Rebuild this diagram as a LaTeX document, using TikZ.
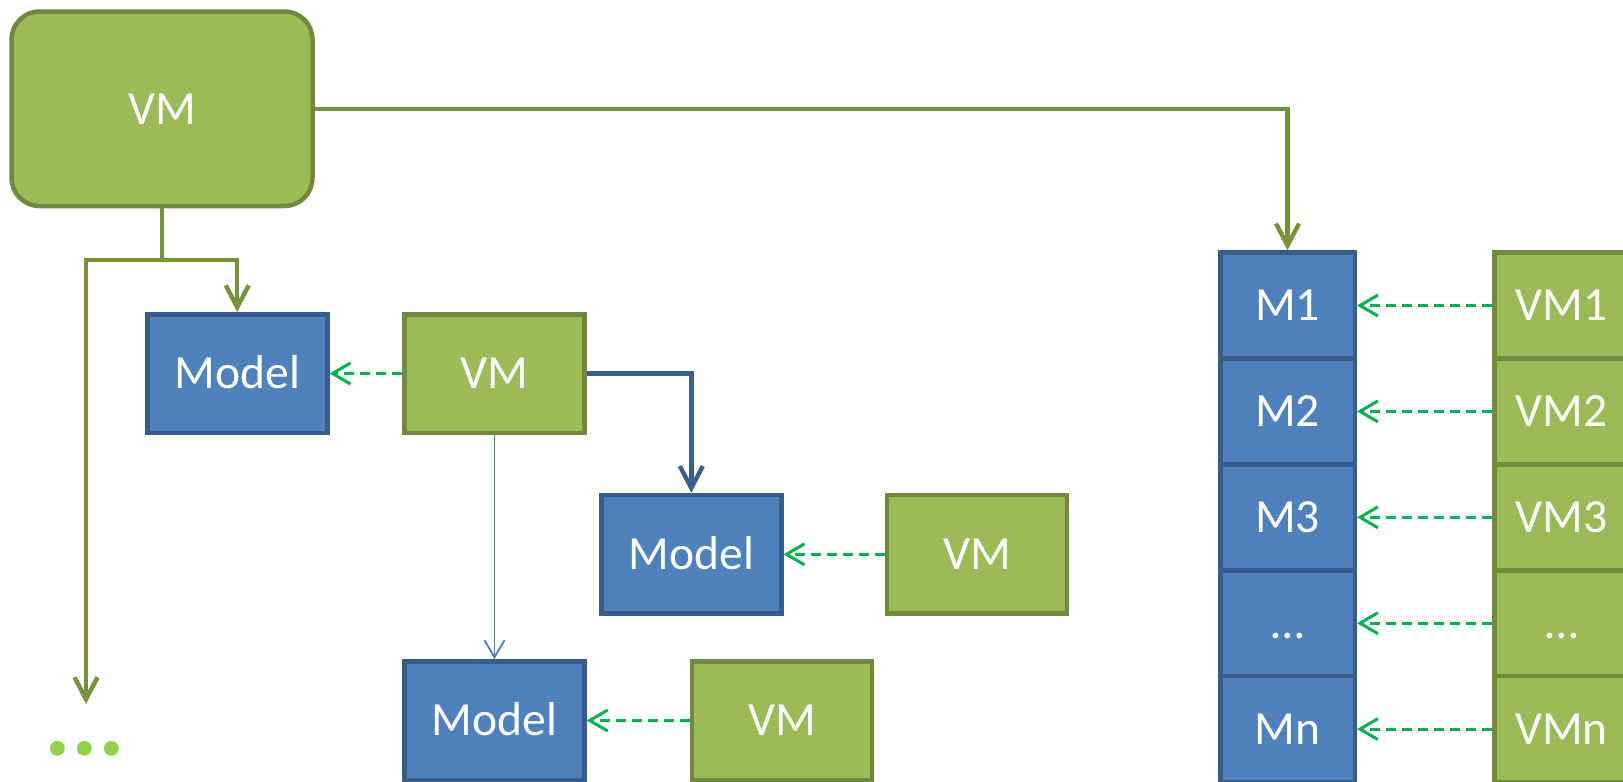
\documentclass[tikz,border=0pt]{standalone}
\usepackage{fontspec}
\setmainfont{Carlito}
\usetikzlibrary{arrows.meta}
\definecolor{gfill}{HTML}{9BBB59}
\definecolor{gdraw}{HTML}{71893F}
\definecolor{bfill}{HTML}{4F81BD}
\definecolor{bdraw}{HTML}{385D8A}
\definecolor{gline}{HTML}{76923C}
\definecolor{bline}{HTML}{3A5F8C}
\definecolor{tline}{HTML}{4A7EBB}
\definecolor{dline}{HTML}{00B050}
\definecolor{dotg}{HTML}{92D050}
\begin{document}
\begin{tikzpicture}[x=0.5pt,y=-0.5pt,
  box/.style={draw, line width=2.25pt, text=white, inner sep=0pt,
    font=\fontsize{23.8pt}{28pt}\selectfont, text height=15.3pt, text depth=0pt},
  gbox/.style={box, fill=gfill, draw=gdraw},
  bbox/.style={box, fill=bfill, draw=bdraw},
  small/.style={minimum width=90pt, minimum height=59.25pt},
  cell/.style={minimum width=67.25pt, minimum height=52.95pt},
  gconn/.style={draw=gline, line width=2.2pt, -{Straight Barb[length=11pt,width=11.5pt]}},
  gplain/.style={draw=gline, line width=2.2pt},
  bconn/.style={draw=bline, line width=2.2pt, -{Straight Barb[length=11pt,width=11.5pt]}},
  tconn/.style={draw=tline, line width=0.9pt, -{Straight Barb[length=8.5pt,width=10pt]}},
  dconn/.style={draw=dline, line width=1.5pt, dash pattern=on 5pt off 3pt,
    -{Straight Barb[length=9pt,width=10.5pt]}}
]
\useasboundingbox (0,0) rectangle (1623,782);
\clip (0,0) rectangle (1623,782);

% big VM
\node[gbox, rounded corners=14pt, minimum width=150.5pt, minimum height=97.25pt] (bigvm) at (162,108.75) {VM};

% middle boxes
\node[bbox, small] (model1) at (237.25,373.5) {Model};
\node[gbox, small] (vm2) at (494.5,373.5) {VM};
\node[bbox, small] (model2) at (691.3,554.3) {Model};
\node[gbox, small] (vm3) at (977.2,554.3) {VM};
\node[bbox, small] (model3) at (494.5,720.5) {Model};
\node[gbox, small] (vm4) at (782,720.5) {VM};

% right columns
\node[bbox, cell] (m1) at (1287.5,305.5) {M1};
\node[bbox, cell] (m2) at (1287.5,411.4) {M2};
\node[bbox, cell] (m3) at (1287.5,517.3) {M3};
\node[bbox, cell] (m4) at (1287.5,623.2) {…};
\node[bbox, cell] (m5) at (1287.5,729.1) {Mn};
\node[gbox, cell] (v1) at (1561.5,305.5) {VM1};
\node[gbox, cell] (v2) at (1561.5,411.4) {VM2};
\node[gbox, cell] (v3) at (1561.5,517.3) {VM3};
\node[gbox, cell] (v4) at (1561.5,623.2) {…};
\node[gbox, cell] (v5) at (1561.5,729.1) {VMn};

% dots
\node[font=\fontsize{50pt}{50pt}\bfseries\selectfont, text=dotg, anchor=base, inner sep=0pt] (dots) at (85,755) {...};

% connectors
\coordinate (split) at (162,260);
\coordinate (dotstip) at (86,704);
\draw[gconn] (bigvm.east) -| (m1.north);
\draw[gplain] (bigvm.south) -- (split);
\draw[gconn] (split) -| (model1.north);
\draw[gconn] (split) -| (dotstip);
\draw[bconn] (vm2.east) -| (model2.north);
\draw[tconn] (vm2.south) -- (model3.north);

\draw[dconn] (vm2.west) -- (model1.east);
\draw[dconn] (vm3.west) -- (model2.east);
\draw[dconn] (vm4.west) -- (model3.east);
\draw[dconn] (v1.west) -- (m1.east);
\draw[dconn] (v2.west) -- (m2.east);
\draw[dconn] (v3.west) -- (m3.east);
\draw[dconn] (v4.west) -- (m4.east);
\draw[dconn] (v5.west) -- (m5.east);
\end{tikzpicture}
\end{document}
